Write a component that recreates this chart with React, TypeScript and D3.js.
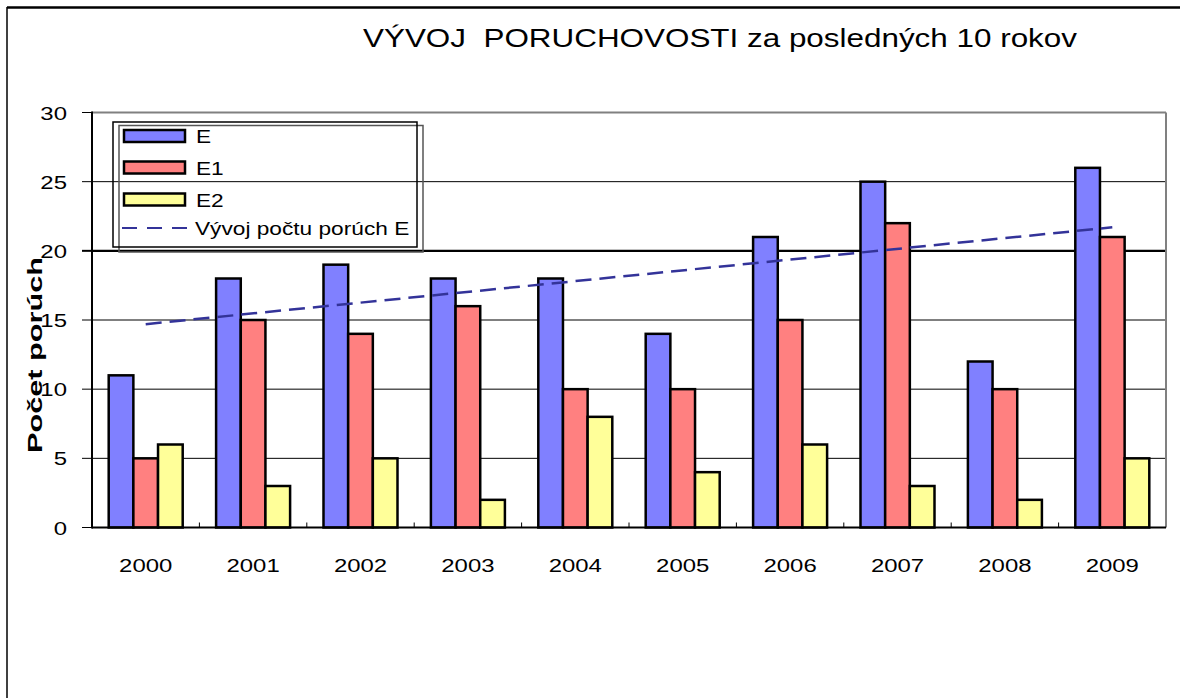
import React from "react";
import * as d3 from "d3";

const years = ["2000", "2001", "2002", "2003", "2004", "2005", "2006", "2007", "2008", "2009"];
const seriesNames = ["E", "E1", "E2"];
const valuesE = [11, 18, 19, 18, 18, 14, 21, 25, 12, 26];
const valuesE1 = [5, 15, 14, 16, 10, 10, 15, 22, 10, 21];
const valuesE2 = [6, 3, 5, 2, 8, 4, 6, 3, 2, 5];
const seriesColors = ["#8080FF", "#FF8080", "#FFFF99"];
const trendYears = ["2000", "2009"];
const trendValues = [14.7, 21.7];
const trendLabel = "Vývoj počtu porúch E";
const yTicks = [0, 5, 10, 15, 20, 25, 30];
const title = "VÝVOJ  PORUCHOVOSTI za posledných 10 rokov";
const yLabel = "Počet porúch";

const FONT = "'Liberation Sans', Arial, Helvetica, sans-serif";
const SX = 1.26;

export default function App() {
  const W = 1180;
  const H = 698;
  const left = 92;
  const right = 1166;
  const top = 112.5;
  const bottom = 527.5;

  const x = d3.scaleBand<string>().domain(years).range([left, right]).padding(0);
  const step = x.step();
  const groupW = 74;
  const xs = d3
    .scaleBand<string>()
    .domain(seriesNames)
    .range([(step - groupW) / 2, (step + groupW) / 2])
    .padding(0);
  const y = d3.scaleLinear().domain([0, 30]).range([bottom, top]);

  const data = [valuesE, valuesE1, valuesE2];

  const trendLine = d3
    .line<number>()
    .x((_, i) => (x(trendYears[i]) as number) + step / 2)
    .y((v) => y(v));

  const legendY = [136, 167.5, 199.5];

  return (
    <svg
      width={W}
      height={H}
      style={{ position: "absolute", left: 0, top: 0, background: "#fff" }}
      fontFamily={FONT}
    >
      <rect x={0} y={0} width={W} height={H} fill="#fff" />
      {/* outer frame */}
      <line x1={7} y1={7.5} x2={W} y2={7.5} stroke="#000" strokeWidth={2.5} />
      <line x1={7} y1={7} x2={7} y2={H} stroke="#000" strokeWidth={1.5} />

      {/* title */}
      <text
        x={363}
        y={47}
        fontSize={26}
        textLength={714}
        lengthAdjust="spacingAndGlyphs"
        style={{ whiteSpace: "pre" }}
        fill="#000"
      >
        {title}
      </text>

      {/* gridlines */}
      {yTicks.filter((t) => t > 0 && t < 30).map((t) => (
        <line
          key={"g" + t}
          x1={left}
          x2={right}
          y1={y(t)}
          y2={y(t)}
          stroke="#000"
          strokeWidth={t === 20 ? 2.2 : 1}
        />
      ))}
      <line x1={left} x2={right} y1={y(30)} y2={y(30)} stroke="#808080" strokeWidth={2} />
      <line x1={right} x2={right} y1={y(30)} y2={bottom} stroke="#808080" strokeWidth={2} />

      {/* bars */}
      {years.map((yr, i) => (
        <g key={yr} transform={`translate(${x(yr)},0)`}>
          {data.map((vals, s) => (
            <rect
              key={s}
              x={xs(seriesNames[s]) as number}
              y={y(vals[i])}
              width={xs.bandwidth()}
              height={bottom - y(vals[i])}
              fill={seriesColors[s]}
              stroke="#000"
              strokeWidth={2.5}
            />
          ))}
        </g>
      ))}

      {/* trend line */}
      <path
        d={trendLine(trendValues) as string}
        fill="none"
        stroke="#333399"
        strokeWidth={2.5}
        strokeDasharray="16 8"
      />

      {/* axes */}
      <line x1={left} x2={left} y1={top - 1} y2={bottom + 1} stroke="#000" strokeWidth={2} />
      <line x1={left} x2={right} y1={bottom} y2={bottom} stroke="#000" strokeWidth={2} />
      {yTicks.map((t) => (
        <g key={"yt" + t}>
          <line x1={82} x2={left} y1={y(t)} y2={y(t)} stroke="#000" strokeWidth={t === 20 ? 2 : 1} />
          <g transform={`translate(67,${y(t) + 7}) scale(${SX},1)`}>
            <text textAnchor="end" fontSize={19} fill="#000">
              {t}
            </text>
          </g>
        </g>
      ))}
      {years.slice(1).map((yr) => (
        <line
          key={"xt" + yr}
          x1={x(yr) as number}
          x2={x(yr) as number}
          y1={bottom}
          y2={bottom - 5}
          stroke="#000"
          strokeWidth={1}
        />
      ))}
      {years.map((yr) => (
        <g key={"xl" + yr} transform={`translate(${(x(yr) as number) + step / 2},572) scale(${SX},1)`}>
          <text textAnchor="middle" fontSize={19} fill="#000">
            {yr}
          </text>
        </g>
      ))}

      {/* y axis label */}
      <text
        transform="translate(42,355) rotate(-90)"
        textAnchor="middle"
        fontSize={21}
        fontWeight="bold"
        textLength={196}
        lengthAdjust="spacingAndGlyphs"
        fill="#000"
      >
        {yLabel}
      </text>

      {/* legend */}
      <rect x={119} y={125.5} width={304} height={126.5} fill="none" stroke="#555" strokeWidth={1.5} />
      <rect x={113} y={122} width={304} height={125} fill="none" stroke="#000" strokeWidth={1.5} />
      {seriesNames.map((n, s) => (
        <g key={"lg" + n}>
          <rect
            x={124}
            y={legendY[s] - 6}
            width={61}
            height={12}
            fill={seriesColors[s]}
            stroke="#000"
            strokeWidth={2.5}
          />
          <g transform={`translate(196,${legendY[s] + 7}) scale(${SX},1)`}>
            <text fontSize={18} fill="#000">
              {n}
            </text>
          </g>
        </g>
      ))}
      <line x1={122} x2={187} y1={228} y2={228} stroke="#333399" strokeWidth={2} strokeDasharray="15 10" />
      <g transform={`translate(195,235) scale(${SX},1)`}>
        <text fontSize={18} fill="#000">
          {trendLabel}
        </text>
      </g>
    </svg>
  );
}
